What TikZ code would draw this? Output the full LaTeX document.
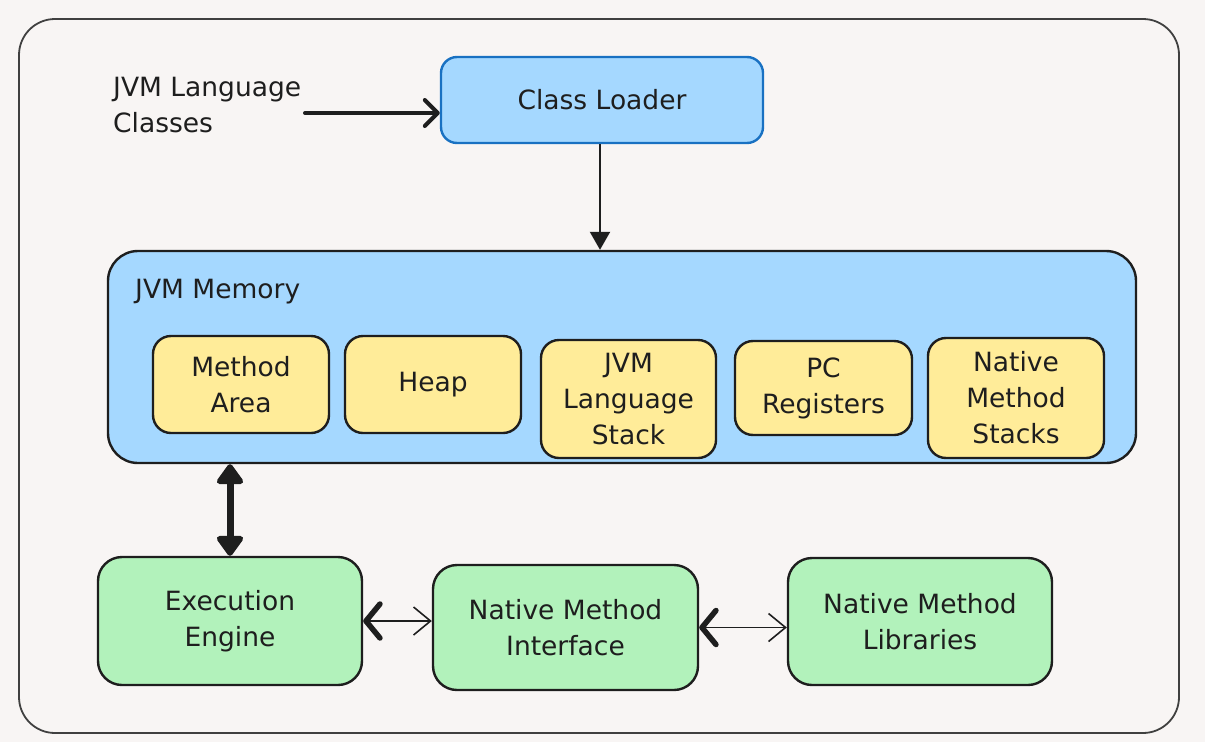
\documentclass[tikz,border=0pt]{standalone}
\usepackage{fontspec}
\setmainfont{DejaVu Sans}
\usetikzlibrary{arrows.meta}

\definecolor{paper}{HTML}{F8F5F4}
\definecolor{ink}{HTML}{1E1E1E}
\definecolor{skyfill}{HTML}{A5D8FF}
\definecolor{skyline}{HTML}{1971C2}
\definecolor{sandfill}{HTML}{FFEC99}
\definecolor{leaffill}{HTML}{B2F2BB}

\tikzset{
  txt/.style={font=\fontsize{26.5}{36}\selectfont, text=ink, align=center, inner sep=0pt},
  loaderbox/.style={txt, draw=skyline, fill=skyfill, line width=2.4pt, rounded corners=16pt},
  memorybox/.style={draw=ink, fill=skyfill, line width=2.4pt, rounded corners=30pt},
  partbox/.style={txt, draw=ink, fill=sandfill, line width=2.4pt, rounded corners=18pt},
  unitbox/.style={txt, draw=ink, fill=leaffill, line width=2.4pt, rounded corners=24pt},
  frame/.style={draw=ink!85, line width=1.8pt, rounded corners=36pt},
  feedarrow/.style={draw=ink, line width=4pt, line cap=round,
    -{Straight Barb[length=13pt,width=26pt,round]}},
  loadarrow/.style={draw=ink, line width=2.2pt,
    -{Triangle[length=18pt,width=20pt]}},
  busarrow/.style={draw=ink, line width=7pt,
    {Triangle[length=22pt,width=30pt,round]}-{Triangle[length=22pt,width=30pt,round]}},
  linkarrow/.style={draw=ink, line width=1.4pt,
    {Straight Barb[length=14pt,width=34pt,line width=5.5pt,round]}-{Straight Barb[length=17pt,width=28pt,line width=1.6pt]}},
}

\begin{document}
\begin{tikzpicture}[x=1pt,y=-1pt]
\useasboundingbox (0,0) rectangle (1205,742);
\fill[paper] (0,0) rectangle (1205,742);

% outer frame
\draw[frame] (19,19) rectangle (1179,733);

% class loading
\node[txt, align=left, anchor=west] (classes) at (113,105) {JVM Language\\Classes};
\node[loaderbox, minimum width=322, minimum height=86] (cl) at (602,100) {Class Loader};

% runtime memory areas
\node[memorybox, minimum width=1028, minimum height=212] (mem) at (622,357) {};
\node[txt, anchor=west] (memlabel) at (135,292) {JVM Memory};
\node[partbox, minimum width=176, minimum height=97] (ma) at (241,384.5) {Method\\Area};
\node[partbox, minimum width=176, minimum height=97] (heap) at (433,384.5) {Heap};
\node[partbox, minimum width=175, minimum height=118] (stack) at (628.5,399) {JVM\\Language\\Stack};
\node[partbox, minimum width=177, minimum height=94] (pc) at (823.5,388) {PC\\Registers};
\node[partbox, minimum width=176, minimum height=120] (nms) at (1016,398) {Native\\Method\\Stacks};

% execution side
\node[unitbox, minimum width=264, minimum height=128] (ee) at (230,621) {Execution\\Engine};
\node[unitbox, minimum width=265, minimum height=125] (nmi) at (565.5,627.5) {Native Method\\Interface};
\node[unitbox, minimum width=264, minimum height=127] (nml) at (920,621.5) {Native Method\\Libraries};

% connectors
\coordinate (feed) at (305,113);
\draw[feedarrow] (feed) -- (feed -| cl.west);
\draw[loadarrow] ([xshift=-2pt]cl.south) -- ([xshift=-2pt]cl.south |- mem.north);
\draw[busarrow] (mem.south -| ee.north) -- (ee.north);
\draw[linkarrow] (ee.east) -- (ee.east -| nmi.west);
\draw[linkarrow] (nmi.east) -- (nmi.east -| nml.west);
\end{tikzpicture}
\end{document}
